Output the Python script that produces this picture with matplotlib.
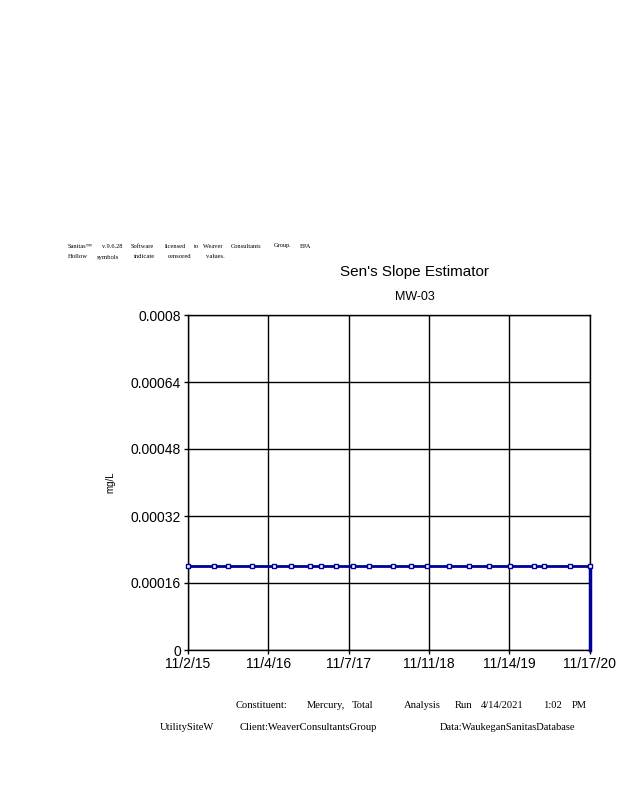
import matplotlib
matplotlib.use("Agg")
import matplotlib.pyplot as plt
import pandas as pd

# sample dates and Mercury, Total results (all censored)
dates = pd.to_datetime([
    "2015-11-02", "2016-03-01", "2016-05-03", "2016-08-21", "2016-11-30",
    "2017-02-16", "2017-05-14", "2017-07-03", "2017-09-10", "2017-11-27",
    "2018-02-08", "2018-05-29", "2018-08-19", "2018-11-01", "2019-02-10",
    "2019-05-12", "2019-08-12", "2019-11-16", "2020-03-05", "2020-04-20",
    "2020-08-17", "2020-11-17",
])
values = [0.0002] * len(dates)

tick_dates = pd.to_datetime(["2015-11-02", "2016-11-04", "2017-11-07",
                             "2018-11-11", "2019-11-14", "2020-11-17"])
tick_labels = ["11/2/15", "11/4/16", "11/7/17", "11/11/18", "11/14/19", "11/17/20"]
y_ticks = [0, 0.00016, 0.00032, 0.00048, 0.00064, 0.0008]
y_labels = ["0", "0.00016", "0.00032", "0.00048", "0.00064", "0.0008"]

header1 = [("Sanitas\u2122", 68), ("v.9.6.28", 102), ("Software", 131), ("licensed", 165),
           ("to", 194), ("Weaver", 203), ("Consultants", 231), ("Group.", 274), ("EPA", 300)]
header2 = [("Hollow", 68), ("symbols", 97), ("indicate", 134), ("censored", 168), ("values.", 206)]
footer1 = [("Constituent:", 236), ("Mercury,", 307), ("Total", 352), ("Analysis", 404),
           ("Run", 455), ("4/14/2021", 481), ("1:02", 543), ("PM", 572)]
footer2 = [("UtilitySiteW", 160), ("Client:WeaverConsultantsGroup", 240),
           ("Data:WaukeganSanitasDatabase", 440)]

W, H = 618, 800
fig = plt.figure(figsize=(W / 100, H / 100), dpi=100)
ax = fig.add_axes([188 / W, 1 - 650 / H, (590 - 188) / W, (650 - 315) / H])

navy = "#000099"
# drop line at the end of the series, then the data line with hollow markers on top
ax.plot([dates[-1], dates[-1]], [values[-1], 0], color=navy, lw=2.5,
        zorder=4, clip_on=False)
ax.plot(dates, values, color=navy, lw=2, marker="s", ms=3.5,
        mfc="white", mec=navy, mew=1, zorder=5, clip_on=False)

ax.set_xlim(tick_dates[0], tick_dates[-1])
ax.set_ylim(0, 0.0008)
ax.set_xticks(tick_dates)
ax.set_xticklabels(tick_labels, fontsize=10, family="Liberation Sans")
ax.set_yticks(y_ticks)
ax.set_yticklabels(y_labels, fontsize=10, family="Liberation Sans")
ax.grid(True, color="black", lw=1)
for s in ax.spines.values():
    s.set_linewidth(1)
ax.tick_params(length=3, width=1, pad=2)

fig.text(110 / W, 1 - 482 / H, "mg/L", rotation=90, ha="center", va="center",
         fontsize=7, family="Liberation Sans")
fig.text(415 / W, 1 - 272 / H, "Sen's Slope Estimator", ha="center", va="center",
         fontsize=11, family="Liberation Sans")
fig.text(415 / W, 1 - 297 / H, "MW-03", ha="center", va="center",
         fontsize=9, family="Liberation Sans")

for words, y, size in [(header1, 246, 4.6), (header2, 257, 4.8),
                       (footer1, 705, 7.6), (footer2, 727, 7.6)]:
    for word, x in words:
        fig.text(x / W, 1 - y / H, word, ha="left", va="center",
                 fontsize=size, family="Liberation Serif")

fig.savefig("out.png", dpi=100)
